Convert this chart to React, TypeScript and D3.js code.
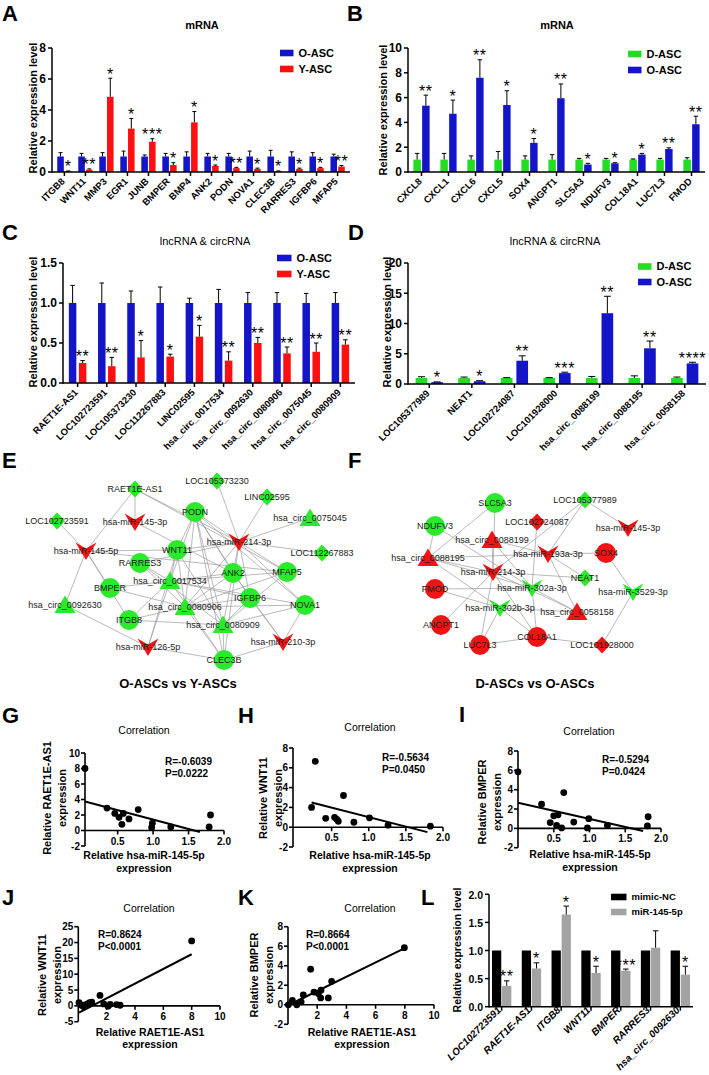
import React from "react";
import * as d3 from "d3";

const FONT = "'Liberation Sans', Arial, Helvetica, sans-serif";
const BLUE = "#1414C8";
const RED = "#FF1010";
const GREEN = "#22DD22";
const NGREEN = "#2BEA2B";
const NRED = "#F01414";

// ---------------- Panel A ----------------
const aCats = ["ITGB8", "WNT11", "MMP3", "EGR1", "JUNB", "BMPER", "BMP4", "ANK2", "PODN", "NOVA1", "CLEC3B", "RARRES3", "IGFBP6", "MFAP5"];
const aOld = [1, 1, 1, 1, 1, 1, 1, 1, 1, 1, 1, 1, 1, 1];
const aOldSD = [0.25, 0.2, 0.25, 0.35, 0.1, 0.2, 0.3, 0.2, 0.2, 0.35, 0.4, 0.3, 0.25, 0.15];
const aYoung = [0.05, 0.15, 4.85, 2.8, 1.95, 0.45, 3.2, 0.4, 0.25, 0.2, 0.05, 0.2, 0.25, 0.35];
const aYoungSD = [0.02, 0.05, 1.2, 0.65, 0.2, 0.15, 0.7, 0.05, 0.05, 0.05, 0.02, 0.05, 0.05, 0.07];
const aStars = ["*", "**", "*", "*", "***", "*", "*", "*", "**", "*", "*", "*", "*", "**"];
const aTicks = [0, 2, 4, 6, 8];

// ---------------- Panel B ----------------
const bCats = ["CXCL8", "CXCL1", "CXCL6", "CXCL5", "SOX4", "ANGPT1", "SLC5A3", "NDUFV3", "COL18A1", "LUC7L3", "FMOD"];
const bD = [1, 1, 1, 1, 1, 1, 1, 1, 1, 1, 1];
const bDSD = [0.5, 0.5, 0.3, 0.65, 0.3, 0.4, 0.1, 0.1, 0.05, 0.1, 0.15];
const bO = [5.35, 4.7, 7.6, 5.4, 2.35, 5.95, 0.6, 0.7, 1.4, 1.85, 3.85];
const bOSD = [0.85, 1.1, 1.45, 1.15, 0.35, 1.15, 0.1, 0.05, 0.1, 0.1, 0.65];
const bStars = ["**", "*", "**", "*", "*", "**", "*", "*", "*", "**", "**"];
const bTicks = [0, 2, 4, 6, 8, 10];

// ---------------- Panel C ----------------
const cCats = ["RAET1E-AS1", "LOC102723591", "LOC105373230", "LOC112267883", "LINC02595", "hsa_circ_0017534", "hsa_circ_0092630", "hsa_circ_0080906", "hsa_circ_0075045", "hsa_circ_0080909"];
const cOld = [1, 1, 1, 1, 1, 1, 1, 1, 1, 1];
const cOldSD = [0.22, 0.25, 0.15, 0.2, 0.06, 0.17, 0.13, 0.13, 0.12, 0.13];
const cYoung = [0.25, 0.21, 0.32, 0.33, 0.58, 0.28, 0.5, 0.37, 0.39, 0.48];
const cYoungSD = [0.03, 0.11, 0.21, 0.03, 0.14, 0.11, 0.07, 0.08, 0.11, 0.06];
const cStars = ["**", "**", "*", "*", "*", "**", "**", "**", "**", "**"];
const cTicks = [0, 0.5, 1.0, 1.5];

// ---------------- Panel D ----------------
const dCats = ["LOC105377989", "NEAT1", "LOC102724087", "LOC101928000", "hsa_circ_0088199", "hsa_circ_0088195", "hsa_circ_0058158"];
const dD = [1, 1, 1, 1, 1, 1, 1];
const dDSD = [0.2, 0.15, 0.05, 0.05, 0.25, 0.35, 0.15];
const dO = [0.3, 0.45, 3.85, 1.8, 11.7, 5.9, 3.4];
const dOSD = [0.05, 0.1, 0.8, 0.15, 2.8, 1.2, 0.2];
const dStars = ["*", "*", "**", "***", "**", "**", "****"];
const dTicks = [0, 5, 10, 15, 20];

// ---------------- Panel L ----------------
const lCats = ["LOC102723591", "RAET1E-AS1", "ITGB8", "WNT11", "BMPER", "RARRES3", "hsa_circ_0092630"];
const lNC = [1, 1, 1, 1, 1, 1, 1];
const lNCSD = [0, 0, 0, 0, 0, 0, 0];
const lMiR = [0.37, 0.68, 1.64, 0.6, 0.64, 1.05, 0.57];
const lMiRSD = [0.09, 0.1, 0.15, 0.12, 0.03, 0.3, 0.15];
const lStars = ["**", "*", "*", "*", "***", "", "*"];
const lTicks = [0, 0.5, 1.0, 1.5, 2.0];

// ---------------- Scatter G-K ----------------
const gX = [0.04, 0.35, 0.46, 0.52, 0.58, 0.56, 0.66, 0.79, 0.99, 0.98, 1.25, 1.81, 1.79];
const gY = [8.0, 2.9, 2.2, 1.7, 2.2, 0.8, 1.5, 2.7, 0.95, 0.4, 0.45, 2.0, 0.45];
const gLine = [0.04, 3.75, 1.66, -0.2];
const hX = [0.23, 0.28, 0.42, 0.54, 0.57, 0.59, 0.66, 0.8, 1.01, 1.26, 1.83];
const hY = [2.0, 6.65, 0.9, 1.0, 0.8, 0.6, 3.2, 0.5, 0.95, 0.2, 0.1];
const hLine = [0.23, 2.5, 1.79, -0.5];
const iX = [0.0, 0.33, 0.45, 0.5, 0.56, 0.54, 0.61, 0.64, 0.78, 0.99, 0.97, 1.25, 1.82, 1.81];
const iY = [5.85, 2.5, 0.6, 1.3, 1.4, 0.3, 0.05, 3.7, 0.65, 1.0, 0.05, 0.3, 1.2, 0.25];
const iLine = [0.0, 2.65, 1.75, -0.27];
const jX = [0.05, 0.2, 0.35, 0.5, 0.65, 0.8, 0.95, 1.53, 1.8, 2.1, 2.25, 2.7, 2.95, 8.0];
const jY = [1.0, 0.3, -0.2, 0.3, 0.6, 1.0, 1.2, 3.3, 0.6, -0.1, 0.5, 0.4, 0.2, 20.5];
const jLine = [0.05, -2.1, 8.0, 16.3];
const kX = [0.02, 0.3, 0.6, 0.9, 1.05, 1.55, 1.78, 2.08, 2.26, 2.24, 2.76, 2.99, 7.97];
const kY = [0.0, 0.45, 0.0, 0.3, 1.0, 3.65, 1.3, 1.15, 1.5, 0.7, 0.7, 2.4, 5.85];
const kLine = [0.02, -0.05, 8.0, 5.8];
const ghiXTicks = [0.5, 1.0, 1.5, 2.0];
const jkXTicks = [2, 4, 6, 8, 10];
const gYTicks = [-2, 0, 2, 4, 6, 8, 10];
const hiYTicks = [-2, 0, 2, 4, 6, 8];
const jYTicks = [-5, 0, 5, 10, 15, 20, 25];
const kYTicks = [-2, 0, 2, 4, 6, 8];

// ---------------- Networks ----------------
const eNodes = [
  ["RAET1E-AS1", "d", "g"], ["LOC105373230", "d", "g"], ["LINC02595", "d", "g"], ["hsa_circ_0075045", "t", "g"],
  ["LOC102723591", "d", "g"], ["hsa-miR-145-3p", "v", "r"], ["PODN", "c", "g"], ["hsa-miR-214-3p", "v", "r"],
  ["LOC112267883", "d", "g"], ["hsa-miR-145-5p", "v", "r"], ["WNT11", "c", "g"], ["RARRES3", "c", "g"],
  ["ANK2", "c", "g"], ["MFAP5", "c", "g"], ["hsa_circ_0017534", "t", "g"], ["BMPER", "c", "g"],
  ["IGFBP6", "c", "g"], ["NOVA1", "c", "g"], ["hsa_circ_0092630", "t", "g"], ["hsa_circ_0080906", "t", "g"],
  ["ITGB8", "c", "g"], ["hsa_circ_0080909", "t", "g"], ["hsa-miR-210-3p", "v", "r"], ["hsa-miR-126-5p", "v", "r"],
  ["CLEC3B", "c", "g"],
];
const ePos = [
  [135, 489], [217, 481], [267, 497], [310, 518], [57, 521], [135, 522], [195, 512], [239, 542],
  [322, 553], [86, 551], [177, 550], [140, 563], [233, 573], [287, 572], [170, 581], [110, 588],
  [250, 598], [305, 605], [65, 605], [185, 607], [129, 620], [223, 625], [283, 642], [148, 647], [224, 660],
];
const eEdges = [
  ["RAET1E-AS1", "hsa-miR-145-3p"], ["RAET1E-AS1", "hsa-miR-145-5p"], ["RAET1E-AS1", "hsa-miR-214-3p"], ["RAET1E-AS1", "MFAP5"],
  ["LOC102723591", "hsa-miR-145-5p"], ["LOC105373230", "hsa-miR-214-3p"], ["LINC02595", "hsa-miR-214-3p"],
  ["hsa_circ_0075045", "hsa-miR-214-3p"], ["LOC112267883", "hsa-miR-214-3p"], ["hsa-miR-145-3p", "ANK2"],
  ["hsa-miR-145-5p", "WNT11"], ["hsa-miR-145-5p", "MFAP5"], ["hsa-miR-145-5p", "BMPER"], ["hsa-miR-145-5p", "hsa_circ_0092630"],
  ["hsa-miR-145-5p", "ITGB8"], ["hsa-miR-214-3p", "PODN"], ["hsa-miR-214-3p", "WNT11"], ["hsa-miR-214-3p", "ANK2"],
  ["hsa-miR-214-3p", "MFAP5"], ["hsa-miR-214-3p", "NOVA1"], ["hsa-miR-214-3p", "IGFBP6"], ["hsa-miR-214-3p", "CLEC3B"],
  ["hsa-miR-214-3p", "hsa_circ_0080906"], ["hsa-miR-214-3p", "RARRES3"], ["hsa-miR-210-3p", "IGFBP6"], ["hsa-miR-210-3p", "NOVA1"],
  ["hsa-miR-210-3p", "CLEC3B"], ["hsa-miR-210-3p", "ANK2"], ["hsa-miR-126-5p", "hsa_circ_0092630"], ["hsa-miR-126-5p", "WNT11"],
  ["hsa-miR-126-5p", "CLEC3B"], ["hsa-miR-126-5p", "hsa_circ_0017534"], ["PODN", "WNT11"], ["PODN", "ANK2"],
  ["PODN", "hsa_circ_0017534"], ["PODN", "hsa_circ_0080906"], ["PODN", "hsa_circ_0080909"], ["PODN", "IGFBP6"],
  ["PODN", "NOVA1"], ["PODN", "CLEC3B"], ["hsa_circ_0017534", "WNT11"], ["hsa_circ_0017534", "ANK2"],
  ["hsa_circ_0017534", "BMPER"], ["hsa_circ_0017534", "RARRES3"], ["hsa_circ_0017534", "IGFBP6"], ["hsa_circ_0017534", "NOVA1"],
  ["hsa_circ_0017534", "CLEC3B"], ["hsa_circ_0017534", "MFAP5"], ["hsa_circ_0017534", "ITGB8"], ["hsa_circ_0080906", "WNT11"],
  ["hsa_circ_0080906", "RARRES3"], ["hsa_circ_0080906", "ANK2"], ["hsa_circ_0080906", "IGFBP6"], ["hsa_circ_0080906", "NOVA1"],
  ["hsa_circ_0080906", "CLEC3B"], ["hsa_circ_0080906", "MFAP5"], ["hsa_circ_0080906", "ITGB8"], ["hsa_circ_0080906", "BMPER"],
  ["hsa_circ_0080909", "WNT11"], ["hsa_circ_0080909", "ANK2"], ["hsa_circ_0080909", "IGFBP6"], ["hsa_circ_0080909", "NOVA1"],
  ["hsa_circ_0080909", "ITGB8"], ["hsa_circ_0080909", "MFAP5"], ["hsa_circ_0080909", "CLEC3B"], ["hsa_circ_0080909", "RARRES3"],
];

const fNodes = [
  ["SLC5A3", "c", "g"], ["LOC105377989", "d", "g"], ["NDUFV3", "c", "g"], ["LOC102724087", "d", "r"],
  ["hsa-miR-145-3p", "v", "r"], ["hsa_circ_0088199", "t", "r"], ["SOX4", "c", "r"], ["hsa_circ_0088195", "t", "r"],
  ["hsa-miR-193a-3p", "v", "r"], ["hsa-miR-214-3p", "v", "r"], ["NEAT1", "d", "g"], ["FMOD", "c", "r"],
  ["hsa-miR-302a-3p", "v", "g"], ["hsa-miR-3529-3p", "v", "g"], ["hsa-miR-302b-3p", "v", "g"], ["hsa_circ_0058158", "t", "r"],
  ["ANGPT1", "c", "r"], ["COL18A1", "c", "r"], ["LUC7L3", "c", "r"], ["LOC101928000", "d", "r"],
];
const fPos = [
  [495, 503], [585, 500], [435, 526], [537, 522], [628, 528], [492, 540], [606, 553], [428, 558],
  [548, 554], [493, 572], [585, 578], [435, 589], [532, 588], [633, 592], [500, 608], [577, 612],
  [441, 625], [537, 637], [480, 645], [602, 645],
];
const fEdges = [
  ["SLC5A3", "hsa_circ_0088195"], ["SLC5A3", "hsa-miR-214-3p"], ["LOC105377989", "hsa-miR-145-3p"], ["LOC105377989", "hsa-miR-193a-3p"],
  ["LOC105377989", "hsa-miR-214-3p"], ["NDUFV3", "hsa_circ_0088195"], ["NDUFV3", "hsa-miR-302a-3p"], ["LOC102724087", "hsa-miR-302a-3p"],
  ["hsa_circ_0088199", "hsa-miR-193a-3p"], ["hsa_circ_0088199", "hsa-miR-214-3p"], ["hsa_circ_0088199", "hsa-miR-302a-3p"],
  ["hsa_circ_0088195", "hsa-miR-193a-3p"], ["hsa_circ_0088195", "hsa-miR-214-3p"], ["hsa_circ_0088195", "hsa-miR-302a-3p"],
  ["hsa_circ_0088195", "hsa-miR-302b-3p"], ["hsa-miR-193a-3p", "SOX4"], ["hsa-miR-193a-3p", "NEAT1"], ["hsa-miR-193a-3p", "hsa_circ_0058158"],
  ["hsa-miR-214-3p", "NEAT1"], ["hsa-miR-214-3p", "hsa_circ_0058158"], ["hsa-miR-214-3p", "ANGPT1"], ["hsa-miR-214-3p", "LUC7L3"],
  ["hsa-miR-214-3p", "COL18A1"], ["FMOD", "hsa-miR-302a-3p"], ["FMOD", "hsa-miR-302b-3p"], ["hsa-miR-302a-3p", "hsa_circ_0058158"],
  ["hsa-miR-302a-3p", "COL18A1"], ["hsa-miR-302b-3p", "hsa_circ_0058158"], ["hsa-miR-302b-3p", "LUC7L3"], ["hsa-miR-302b-3p", "COL18A1"],
  ["LUC7L3", "COL18A1"], ["COL18A1", "LOC101928000"], ["SOX4", "hsa-miR-3529-3p"], ["hsa-miR-3529-3p", "LOC101928000"],
];

// ---------------- Components ----------------
function BarPanel(p: any) {
  const x = d3.scaleBand<string>().domain(p.cats).range([p.x0, p.x1]).paddingInner(p.pIn).paddingOuter(p.pOut);
  const xi = d3.scaleBand<string>().domain(["a", "b"]).range([0, x.bandwidth()]).paddingInner(p.inner);
  const y = d3.scaleLinear().domain([0, p.ymax]).range([p.yBot, p.yTop]);
  const bw = xi.bandwidth();
  const fmt = p.fmt || ((t: number) => String(t));
  const series = [
    { v: p.v1, e: p.e1, c: p.c1, k: "a" },
    { v: p.v2, e: p.e2, c: p.c2, k: "b" },
  ];
  return (
    <g fontFamily={FONT}>
      {p.title && (
        <text x={p.titleX} y={p.titleY} textAnchor="middle" fontSize={11} fontWeight={p.titleBold ? "bold" : "normal"}>{p.title}</text>
      )}
      {series.map((s) =>
        p.cats.map((c: string, i: number) => {
          const bx = (x(c) as number) + (xi(s.k) as number);
          const top = y(s.v[i]);
          const cx = bx + bw / 2;
          const et = y(s.v[i] + s.e[i]);
          return (
            <g key={s.k + c}>
              <rect x={bx} y={top} width={bw} height={p.yBot - top} fill={s.c} />
              {s.e[i] > 0 && (
                <g stroke="#000" strokeWidth={1}>
                  <line x1={cx} x2={cx} y1={top} y2={et} />
                  <line x1={cx - bw * 0.3} x2={cx + bw * 0.3} y1={et} y2={et} />
                </g>
              )}
            </g>
          );
        })
      )}
      {p.cats.map((c: string, i: number) => {
        const bx = (x(c) as number) + (xi("b") as number) + bw / 2;
        const et = y(p.v2[i] + p.e2[i]);
        return (
          <text key={"s" + c} x={bx} y={et + 1.5} textAnchor="middle" fontSize={16} letterSpacing={0.6}>{p.stars[i]}</text>
        );
      })}
      {/* axes */}
      <g stroke="#000" strokeWidth={1.5}>
        <line x1={p.x0} x2={p.x0} y1={p.yBot + 0.75} y2={p.yTop} />
        <line x1={p.x0} x2={p.x1} y1={p.yBot} y2={p.yBot} />
        {p.ticks.map((t: number) => (
          <line key={"yt" + t} x1={p.x0 - 4} x2={p.x0} y1={y(t)} y2={y(t)} />
        ))}
        {p.cats.map((c: string) => {
          const cx = (x(c) as number) + x.bandwidth() / 2;
          return <line key={"xt" + c} x1={cx} x2={cx} y1={p.yBot} y2={p.yBot + 4} />;
        })}
      </g>
      {p.ticks.map((t: number) => (
        <text key={"yl" + t} x={p.x0 - 6} y={y(t) + 4.3} textAnchor="end" fontSize={p.tickFont} fontWeight="bold">{fmt(t)}</text>
      ))}
      {p.cats.map((c: string) => {
        const cx = (x(c) as number) + x.bandwidth() / 2;
        return (
          <text key={"xl" + c} transform={`translate(${cx + p.labDx},${p.yBot + p.labDy}) rotate(-45)`} textAnchor="end"
            fontSize={p.labSize} fontWeight="bold" fontStyle={p.italic ? "italic" : "normal"}>{c}</text>
        );
      })}
      <text transform={`translate(${p.ylabX},${p.ylabY}) rotate(-90)`} textAnchor="middle" fontSize={p.ylabFont} fontWeight="bold" dominantBaseline="central">
        Relative expression level
      </text>
      {/* legend */}
      {[p.n1, p.n2].map((n: string, k: number) => {
        const cy = k === 0 ? p.legY1 : p.legY2;
        return (
          <g key={"lg" + n}>
            <rect x={p.legX} y={cy - 3.3} width={p.legW} height={6.6} fill={k === 0 ? p.c1 : p.c2} />
            <text x={p.legX + p.legW + 5} y={cy + p.legFont * 0.36} fontSize={p.legFont} fontWeight="bold">{n}</text>
          </g>
        );
      })}
    </g>
  );
}

function Scatter(p: any) {
  const x = d3.scaleLinear().domain(p.xd).range(p.xr);
  const y = d3.scaleLinear().domain(p.yd).range(p.yr);
  const y0 = y(0);
  const lineGen = d3.line<number[]>().x((d) => x(d[0])).y((d) => y(d[1]));
  const pts = p.xs.map((v: number, i: number) => [v, p.ys[i]]);
  return (
    <g fontFamily={FONT}>
      <text x={p.titleX} y={p.titleY} textAnchor="middle" fontSize={10.5}>Correlation</text>
      <g stroke="#000" strokeWidth={1.6}>
        <line x1={p.xr[0]} x2={p.xr[0]} y1={p.yr[0]} y2={p.yr[1]} />
        <line x1={p.xr[0]} x2={p.xr[1]} y1={y0} y2={y0} />
        {p.yTicks.map((t: number) => (
          <line key={"yt" + t} x1={p.xr[0] - 4} x2={p.xr[0]} y1={y(t)} y2={y(t)} />
        ))}
        {p.xTicks.map((t: number) => (
          <line key={"xt" + t} x1={x(t)} x2={x(t)} y1={y0} y2={y0 + 4} />
        ))}
      </g>
      {p.yTicks.map((t: number) => (
        <text key={"yl" + t} x={p.xr[0] - 5} y={y(t) + 3.6} textAnchor="end" fontSize={10} fontWeight="bold">{t}</text>
      ))}
      {p.xTicks.map((t: number) => (
        <text key={"xl" + t} x={x(t)} y={y0 + 14} textAnchor="middle" fontSize={10} fontWeight="bold">{p.xFmt(t)}</text>
      ))}
      <path d={lineGen([[p.line[0], p.line[1]], [p.line[2], p.line[3]]]) || ""} stroke="#000" strokeWidth={2} fill="none" />
      {pts.map((d: number[], i: number) => (
        <circle key={"p" + i} cx={x(d[0])} cy={y(d[1])} r={3.4} fill="#000" />
      ))}
      <text x={p.rX} y={p.rY} fontSize={10} fontWeight="bold">{p.r}</text>
      <text x={p.rX} y={p.rY + 11.5} fontSize={10} fontWeight="bold">{p.pv}</text>
      <text x={p.xlabX} y={p.xlabY} textAnchor="middle" fontSize={10.5} fontWeight="bold">{p.xlab}</text>
      <text x={p.xlabX} y={p.xlabY + 12.5} textAnchor="middle" fontSize={10.5} fontWeight="bold">expression</text>
      <text transform={`translate(${p.ylabX},${p.ylabY}) rotate(-90)`} textAnchor="middle" dominantBaseline="central" fontSize={11} fontWeight="bold">{p.ylab}</text>
      <text transform={`translate(${p.ylabX + 14.5},${p.ylabY}) rotate(-90)`} textAnchor="middle" dominantBaseline="central" fontSize={11} fontWeight="bold">expression</text>
    </g>
  );
}

function shapePath(s: string) {
  if (s === "d") return "M0,-8.5L8,0L0,8.5L-8,0Z";
  if (s === "t") return "M0,-9.5L10.5,8L-10.5,8Z";
  if (s === "v") return "M-10.5,-8.5L0,-2.5L10.5,-8.5L0,9Z";
  return "";
}

function Network(p: any) {
  const idx = new Map<string, number>();
  p.nodes.forEach((n: string[], i: number) => idx.set(n[0], i));
  const px = (n: string) => p.pos[idx.get(n) as number];
  return (
    <g fontFamily={FONT}>
      <g stroke="#9c9c9c" strokeWidth={0.7}>
        {p.edges.map((e: string[], i: number) => {
          const a = px(e[0]);
          const b = px(e[1]);
          return <line key={"e" + i} x1={a[0]} y1={a[1]} x2={b[0]} y2={b[1]} />;
        })}
      </g>
      {p.nodes.map((n: string[], i: number) => {
        const [cx, cy] = p.pos[i];
        const fill = n[2] === "g" ? NGREEN : NRED;
        return n[1] === "c" ? (
          <circle key={"n" + i} cx={cx} cy={cy} r={10} fill={fill} />
        ) : (
          <path key={"n" + i} d={shapePath(n[1])} transform={`translate(${cx},${cy})`} fill={fill} />
        );
      })}
      {p.nodes.map((n: string[], i: number) => {
        const [cx, cy] = p.pos[i];
        return (
          <text key={"t" + i} x={cx} y={cy + 3.3} textAnchor="middle" fontSize={9} fill="#1a1a1a">{n[0]}</text>
        );
      })}
    </g>
  );
}

function Letter({ x, y, t }: { x: number; y: number; t: string }) {
  return (
    <text x={x} y={y} fontFamily={FONT} fontSize={22} fontWeight="bold">{t}</text>
  );
}

export default function App() {
  const f1 = d3.format(".1f");
  return (
    <svg width={709} height={1075} style={{ position: "absolute", left: 0, top: 0, background: "#fff" }}>
      <rect x={0} y={0} width={709} height={1075} fill="#fff" />
      <Letter x={2} y={21} t="A" />
      <Letter x={347} y={21} t="B" />
      <Letter x={2} y={240} t="C" />
      <Letter x={348} y={240} t="D" />
      <Letter x={2} y={468} t="E" />
      <Letter x={348} y={468} t="F" />
      <Letter x={2} y={723} t="G" />
      <Letter x={238} y={723} t="H" />
      <Letter x={459} y={722} t="I" />
      <Letter x={2} y={905} t="J" />
      <Letter x={238} y={905} t="K" />
      <Letter x={421} y={905} t="L" />

      <BarPanel cats={aCats} v1={aOld} e1={aOldSD} v2={aYoung} e2={aYoungSD} stars={aStars} c1={BLUE} c2={RED}
        n1="O-ASC" n2="Y-ASC" x0={52} x1={350} yTop={48} yBot={172} ymax={8} ticks={aTicks} pIn={0.32} pOut={0.25} inner={0.15}
        labDx={1} labDy={10} labSize={9.5} tickFont={12} title="mRNA" titleBold titleX={202} titleY={29}
        ylabX={33} ylabY={108} ylabFont={11} legX={280} legW={13.5} legY1={53} legY2={69} legFont={11} />

      <BarPanel cats={bCats} v1={bD} e1={bDSD} v2={bO} e2={bOSD} stars={bStars} c1={GREEN} c2={BLUE}
        n1="D-ASC" n2="O-ASC" x0={408} x1={705} yTop={48} yBot={172} ymax={10} ticks={bTicks} pIn={0.4} pOut={0.2} inner={0.15}
        labDx={1} labDy={10} labSize={9.5} tickFont={12} title="mRNA" titleBold titleX={557} titleY={29}
        ylabX={383} ylabY={110} ylabFont={11} legX={628} legW={13.5} legY1={54} legY2={70} legFont={11} />

      <BarPanel cats={cCats} v1={cOld} e1={cOldSD} v2={cYoung} e2={cYoungSD} stars={cStars} c1={BLUE} c2={RED}
        n1="O-ASC" n2="Y-ASC" x0={63} x1={355} yTop={263} yBot={383} ymax={1.5} ticks={cTicks} fmt={f1} pIn={0.4} pOut={0.2} inner={0.25}
        labDx={1} labDy={10} labSize={9.5} tickFont={12} title="lncRNA & circRNA" titleX={205} titleY={245}
        ylabX={33} ylabY={322} ylabFont={11} legX={277} legW={14.5} legY1={258} legY2={274} legFont={11} />

      <BarPanel cats={dCats} v1={dD} e1={dDSD} v2={dO} e2={dOSD} stars={dStars} c1={GREEN} c2={BLUE}
        n1="D-ASC" n2="O-ASC" x0={408} x1={706} yTop={263} yBot={384} ymax={20} ticks={dTicks} pIn={0.36} pOut={0.18} inner={0.25}
        labDx={1} labDy={10} labSize={9.5} tickFont={12} title="lncRNA & circRNA" titleX={555} titleY={245}
        ylabX={387} ylabY={322} ylabFont={11} legX={638} legW={13.5} legY1={266.5} legY2={282} legFont={11} />

      <Network nodes={eNodes} pos={ePos} edges={eEdges} />
      <Network nodes={fNodes} pos={fPos} edges={fEdges} />

      <text x={178} y={688} textAnchor="middle" fontFamily={FONT} fontSize={13} fontWeight="bold">O-ASCs vs Y-ASCs</text>
      <text x={535} y={688} textAnchor="middle" fontFamily={FONT} fontSize={13} fontWeight="bold">D-ASCs vs O-ASCs</text>

      <Scatter xs={gX} ys={gY} line={gLine} xd={[0.04, 2]} xr={[85, 224]} yd={[-2, 10]} yr={[846, 753]}
        xTicks={ghiXTicks} yTicks={gYTicks} xFmt={f1} titleX={144} titleY={734} r="R=-0.6039" pv="P=0.0222" rX={165} rY={765}
        xlab="Relative hsa-miR-145-5p" xlabX={144} xlabY={859} ylab="Relative RAET1E-AS1" ylabX={47} ylabY={798} />
      <Scatter xs={hX} ys={hY} line={hLine} xd={[-0.02, 2]} xr={[293, 443]} yd={[-2, 8]} yr={[847, 748]}
        xTicks={ghiXTicks} yTicks={hiYTicks} xFmt={f1} titleX={370} titleY={731} r="R=-0.5634" pv="P=0.0450" rX={382} rY={761}
        xlab="Relative hsa-miR-145-5p" xlabX={370} xlabY={859} ylab="Relative WNT11" ylabX={263} ylabY={798} />
      <Scatter xs={iX} ys={iY} line={iLine} xd={[0, 2]} xr={[518, 661]} yd={[-2, 8]} yr={[847.7, 751]}
        xTicks={ghiXTicks} yTicks={hiYTicks} xFmt={f1} titleX={589} titleY={735} r="R=-0.5294" pv="P=0.0424" rX={602} rY={763}
        xlab="Relative hsa-miR-145-5p" xlabX={590} xlabY={858} ylab="Relative BMPER" ylabX={482} ylabY={802} />
      <Scatter xs={jX} ys={jY} line={jLine} xd={[0, 10]} xr={[78.3, 220]} yd={[-5, 25]} yr={[1021.7, 926.7]}
        xTicks={jkXTicks} yTicks={jYTicks} xFmt={(t: number) => String(t)} titleX={149} titleY={912} r="R=0.8624" pv="P<0.0001" rX={98} rY={938}
        xlab="Relative RAET1E-AS1" xlabX={150} xlabY={1035.5} ylab="Relative WNT11" ylabX={42} ylabY={975} />
      <Scatter xs={kX} ys={kY} line={kLine} xd={[0, 10]} xr={[288, 434]} yd={[-2, 8]} yr={[1024.3, 926.7]}
        xTicks={jkXTicks} yTicks={kYTicks} xFmt={(t: number) => String(t)} titleX={370} titleY={912} r="R=0.8664" pv="P<0.0001" rX={306} rY={938}
        xlab="Relative RAET1E-AS1" xlabX={362} xlabY={1035.5} ylab="Relative BMPER" ylabX={254} ylabY={975} />

      <BarPanel cats={lCats} v1={lNC} e1={lNCSD} v2={lMiR} e2={lMiRSD} stars={lStars} c1="#000000" c2="#A3A3A3"
        n1="mimic-NC" n2="miR-145-5p" x0={489} x1={693} yTop={894.3} yBot={1006.7} ymax={2} ticks={lTicks} fmt={f1} pIn={0.35} pOut={0.1} inner={0.08}
        labDx={0} labDy={4} labSize={10} italic tickFont={10.5}
        ylabX={457} ylabY={950} ylabFont={10.5} legX={611} legW={15.5} legY1={897} legY2={912} legFont={9.5} />
    </svg>
  );
}
